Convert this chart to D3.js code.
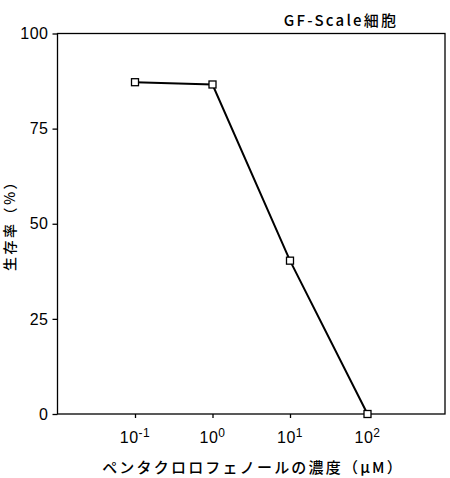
<!DOCTYPE html>
<html>
<head>
<meta charset="utf-8">
<script src="https://cdn.jsdelivr.net/npm/d3@7"></script>
<style>
  body { margin: 0; background: #fff; }
  svg text { font-family: "Noto Sans CJK JP", "DejaVu Sans", sans-serif; fill: #000; }
</style>
</head>
<body>
<svg id="chart" width="450" height="478"></svg>
<script>
// concentration of pentachlorophenol (uM) and survival (%)
var concentrations = [0.1, 1, 10, 100];
var survival = [87.2, 86.6, 40.3, 0];
var yTicks = [0, 25, 50, 75, 100];
var xTicks = [0.1, 1, 10, 100];
var xTickExps = ["-1", "0", "1", "2"];

var svg = d3.select("#chart");
var plotLeft = 57.5, plotRight = 445, plotTop = 33.5, plotBottom = 414;

var x = d3.scaleLog().domain([0.01, 1000]).range([plotLeft, plotRight]);
var y = d3.scaleLinear().domain([0, 100]).range([plotBottom, plotTop]);

// frame
svg.append("rect")
    .attr("x", plotLeft).attr("y", plotTop)
    .attr("width", plotRight - plotLeft).attr("height", plotBottom - plotTop)
    .attr("fill", "none").attr("stroke", "#000").attr("stroke-width", 1.3);

// y axis
var yAxis = svg.append("g")
    .attr("transform", "translate(" + plotLeft + ",0)")
    .call(d3.axisLeft(y).tickValues(yTicks).tickSize(5).tickPadding(4));
yAxis.select(".domain").remove();
yAxis.selectAll("line").attr("stroke-width", 1.3);
yAxis.selectAll("text")
    .style("font-size", "16px")
    .style("letter-spacing", "0.5px")
    .style("font-family", "Liberation Sans, Arial, sans-serif");

// x axis
var xAxis = svg.append("g")
    .attr("transform", "translate(0," + plotBottom + ")")
    .call(d3.axisBottom(x).tickValues(xTicks).tickSize(4).tickFormat(""));
xAxis.select(".domain").remove();
xAxis.selectAll("line").attr("stroke-width", 1.3);

var xl = svg.append("g").selectAll("text").data(xTicks).enter()
    .append("text")
    .attr("x", function(d){ return x(d); })
    .attr("y", 443)
    .attr("text-anchor", "middle")
    .style("font-size", "16px")
    .style("letter-spacing", "0.5px")
    .style("font-family", "Liberation Sans, Arial, sans-serif");
xl.append("tspan").text("10");
xl.append("tspan")
    .attr("dy", -6)
    .style("font-size", "12px")
    .text(function(d, i){ return xTickExps[i]; });

// line + markers
var pts = concentrations.map(function(c, i){ return [c, survival[i]]; });
svg.append("path")
    .datum(pts)
    .attr("fill", "none")
    .attr("stroke", "#000")
    .attr("stroke-width", 2)
    .attr("d", d3.line().x(function(d){ return x(d[0]); }).y(function(d){ return y(d[1]); }));

svg.selectAll(".pt").data(pts).enter()
    .append("rect")
    .attr("class", "pt")
    .attr("x", function(d){ return x(d[0]) - 3.5; })
    .attr("y", function(d){ return y(d[1]) - 3.5; })
    .attr("width", 7).attr("height", 7)
    .attr("fill", "#fff").attr("stroke", "#000").attr("stroke-width", 1.3);

// titles
svg.append("text")
    .attr("x", 341).attr("y", 26)
    .attr("text-anchor", "middle")
    .style("font-size", "15px")
    .style("font-weight", "500")
    .style("letter-spacing", "2.2px")
    .text("GF-Scale細胞");

svg.append("text")
    .attr("transform", "translate(9,222) rotate(-90)")
    .attr("text-anchor", "middle")
    .attr("dominant-baseline", "central")
    .style("font-size", "14px")
    .style("font-weight", "500")
    .style("letter-spacing", "2.5px")
    .text("生存率（%）");

svg.append("text")
    .attr("x", 253).attr("y", 473)
    .attr("text-anchor", "middle")
    .style("font-size", "15px")
    .style("font-weight", "500")
    .style("letter-spacing", "2.2px")
    .text("ペンタクロロフェノールの濃度（μM）");
</script>
</body>
</html>
